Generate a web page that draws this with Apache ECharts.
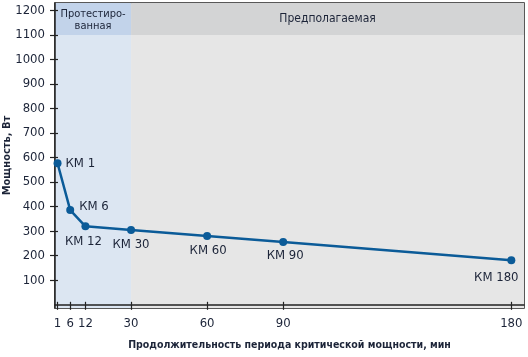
<!DOCTYPE html>
<html>
<head>
<meta charset="utf-8">
<script src="https://cdn.jsdelivr.net/npm/echarts@6/dist/echarts.min.js"></script>
<style>
html,body{margin:0;padding:0;background:#fff;}
#c{width:528px;height:357px;}
</style>
</head>
<body>
<div id="c"></div>
<script>
var durations = [1, 6, 12, 30, 60, 90, 180];
var powers = [577, 386, 320, 305, 280, 256, 182];
var pointNames = ['КМ 1', 'КМ 6', 'КМ 12', 'КМ 30', 'КМ 60', 'КМ 90', 'КМ 180'];
var xTicks = [1, 6, 12, 30, 60, 90, 180];
var yTicks = [100, 200, 300, 400, 500, 600, 700, 800, 900, 1000, 1100, 1200];
var testedLabel = 'Протестиро-\nванная';
var predictedLabel = 'Предполагаемая';
var xTitle = 'Продолжительность периода критической мощности, мин';
var yTitle = 'Мощность, Вт';

var FONT = '"DejaVu Sans Condensed", "Liberation Sans", Arial, sans-serif';
var TXT = '#1c2438';
var X_MIN = 0, X_MAX = 185, Y_MIN = -13, Y_MAX = 1230, SPLIT = 30, HEAD = 1100;

var labelCfg = [
  {position: 'right', distance: 4, offset: [0, 0]},
  {position: 'right', distance: 5, offset: [0, -3]},
  {position: 'bottom', distance: 5, offset: [-2, 0]},
  {position: 'bottom', distance: 4, offset: [0, 0]},
  {position: 'bottom', distance: 4, offset: [1, 0]},
  {position: 'bottom', distance: 3, offset: [2, 0]},
  {position: 'bottom', distance: 7, offset: [-15, 0]}
];

var data = durations.map(function (d, i) {
  return {
    value: [d, powers[i]],
    name: pointNames[i],
    label: Object.assign({show: true, formatter: pointNames[i]}, labelCfg[i])
  };
});

function plain(v) { return String(v); }

var chart = echarts.init(document.getElementById('c'), null, {renderer: 'canvas'});
chart.setOption({
  animation: false,
  textStyle: {fontFamily: FONT},
  grid: {left: 55, right: 4, top: 3, bottom: 49, containLabel: false, outerBoundsMode: 'none',
         show: true, borderColor: '#222', borderWidth: 1.5, backgroundColor: 'transparent'},
  xAxis: [{
    type: 'value', min: X_MIN, max: X_MAX, position: 'bottom',
    name: xTitle, nameLocation: 'middle', nameGap: 32, nameMoveOverlap: false,
    nameTextStyle: {fontFamily: FONT, fontWeight: 'bold', fontSize: 10.5, color: TXT},
    axisLine: {show: true, lineStyle: {color: '#222', width: 1.5}},
    axisTick: {show: true, length: 5, customValues: xTicks, lineStyle: {color: '#222', width: 1.2}},
    axisLabel: {customValues: xTicks, formatter: plain, margin: 9, fontSize: 13, color: TXT, fontFamily: FONT},
    splitLine: {show: false}
  }, {
    type: 'value', min: X_MIN, max: X_MAX, position: 'bottom',
    axisLine: {show: false},
    axisTick: {show: true, inside: true, length: 3, customValues: xTicks, lineStyle: {color: '#222', width: 1.2}},
    axisLabel: {show: false},
    splitLine: {show: false}
  }],
  yAxis: [{
    type: 'value', min: Y_MIN, max: Y_MAX, position: 'left',
    name: yTitle, nameLocation: 'middle', nameGap: 42, nameMoveOverlap: false,
    nameTextStyle: {fontFamily: FONT, fontWeight: 'bold', fontSize: 11, color: TXT},
    axisLine: {show: true, lineStyle: {color: '#222', width: 1.5}},
    axisTick: {show: true, length: 5, customValues: yTicks, lineStyle: {color: '#222', width: 1.2}},
    axisLabel: {customValues: yTicks, formatter: plain, margin: 10, fontSize: 13, color: TXT, fontFamily: FONT},
    splitLine: {show: false}
  }, {
    type: 'value', min: Y_MIN, max: Y_MAX, position: 'left',
    axisLine: {show: false},
    axisTick: {show: true, inside: true, length: 3, customValues: yTicks, lineStyle: {color: '#222', width: 1.2}},
    axisLabel: {show: false},
    splitLine: {show: false}
  }],
  series: [{
    type: 'line',
    data: data,
    xAxisIndex: 0, yAxisIndex: 0,
    symbol: 'circle', symbolSize: 8,
    lineStyle: {color: '#0b5b98', width: 2.5},
    itemStyle: {color: '#0b5b98'},
    label: {fontSize: 13, color: TXT, fontFamily: FONT},
    z: 5,
    markArea: {
      silent: true,
      z: 0,
      data: [
        [{xAxis: X_MIN, yAxis: Y_MIN, itemStyle: {color: '#dce6f2'}}, {xAxis: SPLIT, yAxis: HEAD}],
        [{xAxis: X_MIN, yAxis: HEAD, itemStyle: {color: '#c2d3ea'},
          label: {show: true, position: 'inside', formatter: testedLabel, fontSize: 11, lineHeight: 12, color: TXT, fontFamily: FONT, offset: [0, 1]}},
         {xAxis: SPLIT, yAxis: Y_MAX}],
        [{xAxis: SPLIT, yAxis: Y_MIN, itemStyle: {color: '#e6e6e6'}}, {xAxis: X_MAX, yAxis: HEAD}],
        [{xAxis: SPLIT, yAxis: HEAD, itemStyle: {color: '#d3d4d5'},
          label: {show: true, position: 'inside', formatter: predictedLabel, fontSize: 12, color: TXT, fontFamily: FONT, offset: [0, 0]}},
         {xAxis: X_MAX, yAxis: Y_MAX}]
      ]
    }
  }]
});
</script>
</body>
</html>
